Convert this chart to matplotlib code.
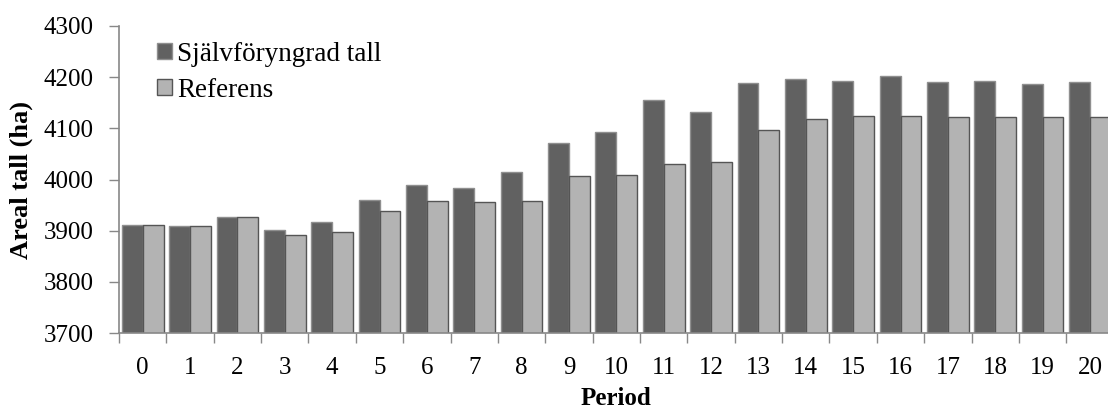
import numpy as np
import matplotlib.pyplot as plt

# values
periods = list(range(21))
sjalvforyngrad = [3911, 3909, 3926, 3902, 3916, 3960, 3989, 3983, 4015, 4071, 4093,
                  4155, 4132, 4189, 4197, 4193, 4202, 4190, 4192, 4186, 4191]
referens = [3912, 3909, 3927, 3892, 3898, 3939, 3958, 3956, 3958, 4006, 4009,
            4031, 4034, 4097, 4119, 4125, 4124, 4123, 4123, 4122, 4123]
labels = ["Självföryngrad tall", "Referens"]

plt.rcParams["font.family"] = ["Liberation Serif", "DejaVu Serif"]

fig = plt.figure(figsize=(11.08, 4.12), dpi=100)
ax = fig.add_axes([0.1074, 0.1917, 0.8977, 0.7452])

x = np.arange(len(periods))
w = 0.44
ax.bar(x - w / 2, sjalvforyngrad, w, color="#616161", edgecolor="#8f8f8f",
       linewidth=1.0, label=labels[0])
ax.bar(x + w / 2, referens, w, color="#b3b3b3", edgecolor="#555555",
       linewidth=1.0, label=labels[1])

ax.set_xlim(-0.5, len(periods) - 0.5)
ax.set_ylim(3700, 4300)
ax.set_yticks(range(3700, 4301, 100))

# category labels on major ticks, tick marks on group boundaries
ax.set_xticks(x)
ax.set_xticklabels([str(p) for p in periods])
ax.set_xticks(np.arange(-0.5, len(periods), 1.0), minor=True)
ax.tick_params(axis="x", which="major", length=0, pad=17, labelsize=18)
ax.tick_params(axis="x", which="minor", length=7, color="#888888", width=1)
ax.tick_params(axis="y", length=7, color="#888888", width=1, labelsize=18, pad=11)

for side in ("top", "right"):
    ax.spines[side].set_visible(False)
for side in ("left", "bottom"):
    ax.spines[side].set_color("#888888")
    ax.spines[side].set_linewidth(1.2)

ax.set_xlabel("Period", fontsize=18, fontweight="bold", labelpad=6)
ax.set_ylabel("Areal tall (ha)", fontsize=19, fontweight="bold", labelpad=8)

ax.legend(loc="upper left", bbox_to_anchor=(0.038, 0.949), frameon=False,
          fontsize=19.5, handlelength=0.55, handleheight=0.55, handletextpad=0.2,
          labelspacing=0.41, borderaxespad=0, borderpad=0)

fig.savefig("out.png", dpi=100)
